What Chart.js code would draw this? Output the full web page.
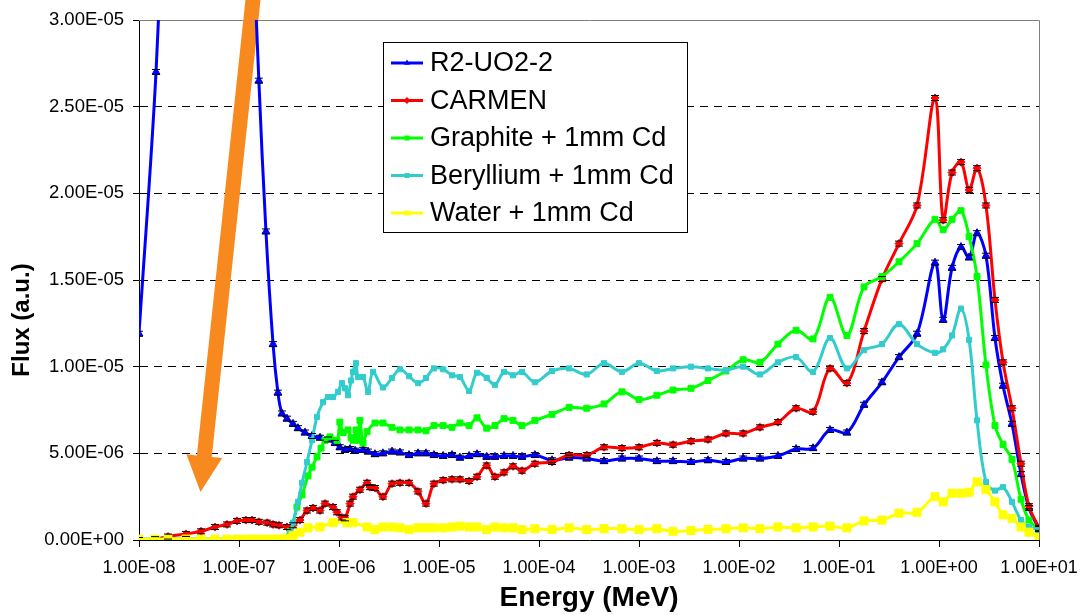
<!DOCTYPE html>
<html>
<head>
<meta charset="utf-8">
<script src="https://cdn.jsdelivr.net/npm/chart.js@4.4.0/dist/chart.umd.min.js"></script>
<style>
  html, body { margin: 0; padding: 0; background: #fff; }
  #wrap { width: 1081px; height: 615px; position: relative; }
</style>
</head>
<body>
<div id="wrap"><canvas id="flux-chart"></canvas></div>
<script>
// Neutron flux spectra. Flux values are in units of 1e-6 a.u.,
// energies in MeV. Above 3 eV all series share one energy grid.

const xTicks = [1e-8, 1e-7, 1e-6, 1e-5, 1e-4, 1e-3, 1e-2, 1e-1, 1e0, 1e1];
const xTickLabels = ['1.00E-08', '1.00E-07', '1.00E-06', '1.00E-05', '1.00E-04',
    '1.00E-03', '1.00E-02', '1.00E-01', '1.00E+00', '1.00E+01'];
const yTicks = [0, 5, 10, 15, 20, 25, 30];
const yTickLabels = ['0.00E+00', '5.00E-06', '1.00E-05', '1.50E-05', '2.00E-05', '2.50E-05', '3.00E-05'];

const seriesNames = ['R2-UO2-2', 'CARMEN', 'Graphite + 1mm Cd', 'Beryllium + 1mm Cd', 'Water + 1mm Cd'];

const energyGrid = [
    3.39e-6, 4.07e-6, 5.01e-6, 6.17e-6, 7.41e-6, 8.9e-6, 1.10e-5, 1.35e-5, 1.62e-5,
    2.0e-5, 2.4e-5, 3.0e-5, 3.63e-5, 4.47e-5, 5.5e-5, 6.76e-5, 9.1e-5,
    1.35e-4, 2.0e-4, 3.0e-4, 4.47e-4, 6.76e-4, 1.0e-3, 1.51e-3, 2.19e-3, 3.31e-3,
    4.9e-3, 7.41e-3, 1.1e-2, 1.62e-2, 2.45e-2, 3.72e-2, 5.5e-2, 8.13e-2, 0.12,
    0.178, 0.269, 0.398, 0.603, 0.912, 1.10, 1.35, 1.66, 2.0, 2.4, 2.95, 3.63,
    4.37, 5.37, 6.61, 7.94, 10
];

// R2-UO2-2
const r2LowEnergy = [1.0e-8, 1.48e-8, 2.2e-8, 3.5e-8, 6e-8, 9e-8, 1.15e-7, 1.35e-7, 1.58e-7,
    1.86e-7, 2.19e-7, 2.45e-7, 2.69e-7, 3.02e-7, 3.47e-7, 3.89e-7, 4.57e-7, 5.37e-7,
    6.46e-7, 7.76e-7, 9.12e-7, 1.02e-6, 1.15e-6, 1.29e-6, 1.45e-6, 1.74e-6, 1.95e-6,
    2.29e-6, 2.75e-6];
const r2LowFlux = [11.9, 27.0, 50, 80, 90, 75, 55, 37, 26.5,
    17.8, 11.3, 8.5, 7.3, 7.0, 6.7, 6.45, 6.2, 6.0,
    5.9, 5.8, 5.6, 5.35, 5.2, 5.25, 5.15, 5.2, 5.1,
    4.95, 5.0];
const r2Flux = [5.1, 5.05, 4.9, 5.0, 5.0, 4.9, 4.85, 4.9, 4.75, 4.85, 4.95, 4.8, 4.8, 4.85, 4.85, 4.8, 4.9,
    4.6, 4.75, 4.7, 4.55, 4.7, 4.7, 4.55, 4.55, 4.5, 4.6, 4.5, 4.7, 4.7, 4.85, 5.25, 5.3,
    6.35, 6.2, 7.8, 9.1, 10.55, 11.9, 16.0, 12.7, 15.7, 16.9, 16.3, 17.7, 16.4, 11.65,
    8.9, 6.7, 3.8, 1.85, 0.63];

// CARMEN
const carmenLowEnergy = [1.0e-8, 1.45e-8, 1.95e-8, 2.95e-8, 4.17e-8, 5.75e-8, 7.59e-8, 9.55e-8,
    1.17e-7, 1.35e-7, 1.58e-7, 1.91e-7, 2.19e-7, 2.51e-7, 3.02e-7, 3.47e-7, 4.07e-7,
    4.79e-7, 5.5e-7, 6.46e-7, 7.24e-7, 8.71e-7, 9.55e-7, 1.07e-6, 1.15e-6, 1.29e-6,
    1.38e-6, 1.62e-6, 1.91e-6, 2.04e-6, 2.29e-6, 2.75e-6];
const carmenLowFlux = [0.0, 0.05, 0.2, 0.35, 0.5, 0.75, 0.9, 1.1,
    1.15, 1.15, 1.05, 1.0, 0.9, 0.85, 0.75, 0.85, 1.15,
    1.7, 1.85, 1.7, 2.1, 1.9, 1.6, 1.3, 1.25, 2.1,
    2.5, 2.9, 3.3, 3.05, 3.0, 2.5];
const carmenFlux = [3.25, 3.3, 3.3, 2.8, 2.1, 3.25, 3.45, 3.5, 3.5, 3.4, 3.65, 4.3, 3.65, 3.9, 4.25, 4.0, 4.4,
    4.5, 4.9, 4.9, 5.35, 5.3, 5.35, 5.6, 5.5, 5.7, 5.8, 6.15, 6.15, 6.5, 6.8, 7.6, 7.4,
    9.9, 9.05, 12.05, 15.05, 17.1, 19.3, 25.5, 18.45, 21.2, 21.8, 20.2, 21.45, 19.3, 13.85,
    10.25, 7.6, 4.4, 1.95, 0.7];

// Graphite + 1mm Cd
const graphiteLowEnergy = [1.0e-8, 3.0e-8, 1.0e-7, 2.51e-7, 3.24e-7, 3.8e-7, 4.27e-7, 4.9e-7,
    5.37e-7, 6.03e-7, 6.61e-7, 7.24e-7, 8.13e-7, 9.55e-7, 1.02e-6, 1.10e-6, 1.23e-6,
    1.32e-6, 1.38e-6, 1.48e-6, 1.55e-6, 1.62e-6, 1.74e-6, 1.91e-6, 2.29e-6, 2.75e-6];
const graphiteLowFlux = [0.05, 0.05, 0.05, 0.05, 0.5, 1.9, 2.6, 3.7,
    4.2, 4.8, 5.3, 5.75, 5.95, 5.75, 6.8, 6.2, 6.35,
    5.9, 5.75, 6.35, 5.75, 6.9, 5.6, 6.25, 6.75, 6.75];
const graphiteFlux = [6.5, 6.35, 6.35, 6.35, 6.3, 6.6, 6.6, 6.5, 6.75, 6.6, 7.05, 6.45, 6.6, 7.0, 6.9, 6.6, 6.9,
    7.25, 7.65, 7.6, 7.85, 8.55, 8.1, 8.35, 8.65, 8.75, 9.2, 9.75, 10.4, 10.25, 11.3, 12.1, 11.6,
    14.0, 11.8, 14.6, 15.2, 16.05, 17.1, 18.5, 17.9, 18.5, 19.0, 17.5, 15.2, 10.1, 6.6,
    5.5, 4.65, 2.35, 1.15, 0.58];

// Beryllium + 1mm Cd
const berylliumLowEnergy = [1.0e-8, 3.0e-8, 1.0e-7, 2.51e-7, 3.24e-7, 3.47e-7, 3.89e-7, 4.27e-7,
    4.79e-7, 5.37e-7, 6.03e-7, 6.92e-7, 7.76e-7, 8.71e-7, 9.77e-7, 1.07e-6, 1.15e-6,
    1.23e-6, 1.32e-6, 1.38e-6, 1.48e-6, 1.55e-6, 1.74e-6, 1.95e-6, 2.19e-6, 2.75e-6];
const berylliumLowFlux = [0.05, 0.05, 0.05, 0.05, 0.4, 1.0, 2.2, 3.3,
    4.5, 5.75, 7.1, 7.95, 8.25, 8.25, 8.55, 9.05, 8.75,
    8.35, 9.2, 9.7, 10.2, 9.4, 9.4, 8.55, 9.7, 8.8];
const berylliumFlux = [9.35, 9.85, 9.45, 9.05, 9.35, 9.9, 9.85, 9.5, 9.4, 8.6, 9.65, 9.35, 8.95, 9.7, 9.5, 9.7, 9.1,
    9.75, 9.9, 9.55, 10.2, 9.7, 10.2, 9.75, 9.9, 10.0, 9.9, 9.8, 10.0, 9.55, 10.25, 10.55, 9.7,
    11.65, 9.9, 10.95, 11.3, 12.45, 11.3, 10.8, 11.0, 11.8, 13.35, 11.55, 6.9, 3.35, 2.85,
    3.05, 2.2, 1.15, 0.75, 0.6];

// Water + 1mm Cd
const waterLowEnergy = [1.0e-8, 1.45e-8, 1.95e-8, 2.95e-8, 4.17e-8, 5.75e-8, 7.59e-8, 9.55e-8,
    1.17e-7, 1.35e-7, 1.58e-7, 1.91e-7, 2.19e-7, 2.51e-7, 3.02e-7, 3.47e-7, 4.07e-7,
    4.9e-7, 6.46e-7, 8.71e-7, 1.2e-6, 1.38e-6, 1.91e-6, 2.29e-6, 2.75e-6];
const waterLowFlux = [0.05, 0.05, 0.05, 0.05, 0.05, 0.05, 0.05, 0.05,
    0.05, 0.05, 0.05, 0.05, 0.05, 0.05, 0.1, 0.25, 0.45,
    0.7, 0.75, 1.0, 1.0, 1.0, 0.75, 0.6, 0.75];
const waterFlux = [0.75, 0.7, 0.6, 0.7, 0.7, 0.7, 0.7, 0.75, 0.8, 0.75, 0.75, 0.6, 0.75, 0.7, 0.7, 0.6, 0.65,
    0.6, 0.7, 0.6, 0.65, 0.65, 0.6, 0.65, 0.5, 0.55, 0.6, 0.65, 0.7, 0.65, 0.75, 0.7, 0.75,
    0.8, 0.7, 1.1, 1.15, 1.55, 1.6, 2.5, 2.2, 2.7, 2.7, 2.75, 3.35, 2.9, 2.2,
    1.45, 1.25, 0.75, 0.45, 0.15];

// orange annotation arrow: tail and tip as [energy, flux]
const arrowTail = [1.43e-7, 32];
const arrowTip = [4.12e-8, 2.77];

const FONT = "'Liberation Sans', Arial, sans-serif";

function toPoints(lowE, lowF, flux) {
    return lowE.map((e, i) => ({ x: e, y: lowF[i] }))
        .concat(energyGrid.map((e, i) => ({ x: e, y: flux[i] })));
}

function makeDataset(idx, lowE, lowF, flux, color, style, radius, errorBars) {
    return {
        label: seriesNames[idx],
        data: toPoints(lowE, lowF, flux),
        borderColor: color,
        backgroundColor: color,
        pointBackgroundColor: color,
        pointBorderColor: color,
        pointBorderWidth: 1,
        pointStyle: style,
        pointRadius: radius,
        borderWidth: 3,
        tension: 0.35,
        order: 4 - idx,
        errorBars: errorBars,
    };
}

const datasets = [
    makeDataset(0, r2LowEnergy, r2LowFlux, r2Flux, '#0000FF', 'triangle', 4.5, true),
    makeDataset(1, carmenLowEnergy, carmenLowFlux, carmenFlux, '#FF0000', 'rectRot', 4, true),
    makeDataset(2, graphiteLowEnergy, graphiteLowFlux, graphiteFlux, '#00FF00', 'rect', 4.2, false),
    makeDataset(3, berylliumLowEnergy, berylliumLowFlux, berylliumFlux, '#33CCCC', 'rect', 3.6, false),
    makeDataset(4, waterLowEnergy, waterLowFlux, waterFlux, '#FFFF00', 'rect', 5.7, false),
];

function drawMarker(ctx, style, r, x, y) {
    ctx.beginPath();
    if (style === 'triangle') {
        ctx.moveTo(x, y - r);
        ctx.lineTo(x + r * 0.866, y + r * 0.5);
        ctx.lineTo(x - r * 0.866, y + r * 0.5);
    } else if (style === 'rectRot') {
        ctx.moveTo(x, y - r); ctx.lineTo(x + r, y); ctx.lineTo(x, y + r); ctx.lineTo(x - r, y);
    } else {
        const s = r * Math.SQRT1_2;
        ctx.rect(x - s, y - s, 2 * s, 2 * s);
    }
    ctx.closePath();
    ctx.fill();
}

const overlayPlugin = {
    id: 'overlay',
    beforeDatasetsDraw(chart) {
        const { ctx, chartArea: a, scales: { x, y } } = chart;
        ctx.save();
        // gray frame on the top and right of the plot
        ctx.strokeStyle = '#808080';
        ctx.lineWidth = 1;
        ctx.beginPath();
        ctx.moveTo(a.left, a.top + 0.5);
        ctx.lineTo(a.right + 0.5, a.top + 0.5);
        ctx.lineTo(a.right + 0.5, a.bottom);
        ctx.stroke();

        // orange arrow
        const tx = x.getPixelForValue(arrowTail[0]), ty = y.getPixelForValue(arrowTail[1]);
        const hx = x.getPixelForValue(arrowTip[0]), hy = y.getPixelForValue(arrowTip[1]);
        const len = Math.hypot(hx - tx, hy - ty);
        const ux = (hx - tx) / len, uy = (hy - ty) / len;
        const nx = -uy, ny = ux;
        const headLen = 36, headHalf = 18, shaftHalf = 7.5;
        const bx = hx - ux * headLen, by = hy - uy * headLen;
        ctx.fillStyle = '#F7891F';
        ctx.beginPath();
        ctx.moveTo(tx + nx * shaftHalf, ty + ny * shaftHalf);
        ctx.lineTo(bx + nx * shaftHalf, by + ny * shaftHalf);
        ctx.lineTo(bx + nx * headHalf, by + ny * headHalf);
        ctx.lineTo(hx, hy);
        ctx.lineTo(bx - nx * headHalf, by - ny * headHalf);
        ctx.lineTo(bx - nx * shaftHalf, by - ny * shaftHalf);
        ctx.lineTo(tx - nx * shaftHalf, ty - ny * shaftHalf);
        ctx.closePath();
        ctx.fill();
        ctx.restore();
    },
    afterDatasetsDraw(chart) {
        const { ctx, chartArea: a } = chart;
        ctx.save();

        // small error-bar caps on the measured series
        ctx.beginPath();
        ctx.rect(a.left, a.top, a.right - a.left, a.bottom - a.top);
        ctx.clip();
        ctx.strokeStyle = '#000';
        ctx.lineWidth = 1;
        chart.data.datasets.forEach((ds, i) => {
            if (!ds.errorBars) return;
            chart.getDatasetMeta(i).data.forEach(pt => {
                ctx.beginPath();
                ctx.moveTo(pt.x - 4, pt.y - 2.5); ctx.lineTo(pt.x + 4, pt.y - 2.5);
                ctx.moveTo(pt.x - 4, pt.y + 2.5); ctx.lineTo(pt.x + 4, pt.y + 2.5);
                ctx.stroke();
            });
        });
        ctx.restore();

        // legend box inside the plot
        ctx.save();
        const lx = 383, ly = 42, lw = 304, lh = 190, rowH = 37.5;
        ctx.fillStyle = '#fff';
        ctx.fillRect(lx, ly, lw, lh);
        ctx.strokeStyle = '#000';
        ctx.lineWidth = 1;
        ctx.strokeRect(lx + 0.5, ly + 0.5, lw, lh);
        ctx.font = '27px ' + FONT;
        ctx.textBaseline = 'middle';
        ctx.textAlign = 'left';
        chart.data.datasets.forEach((ds, i) => {
            const cy = ly + 21 + i * rowH;
            ctx.strokeStyle = ds.borderColor;
            ctx.lineWidth = 3;
            ctx.beginPath();
            ctx.moveTo(lx + 8, cy);
            ctx.lineTo(lx + 40, cy);
            ctx.stroke();
            ctx.fillStyle = ds.borderColor;
            drawMarker(ctx, ds.pointStyle, Math.min(ds.pointRadius, 3.5), lx + 24, cy);
            ctx.fillStyle = '#000';
            ctx.fillText(ds.label, lx + 47, cy + 1);
        });

        // y axis title
        ctx.translate(22, 320);
        ctx.rotate(-Math.PI / 2);
        ctx.font = 'bold 24px ' + FONT;
        ctx.textAlign = 'center';
        ctx.fillStyle = '#000';
        ctx.fillText('Flux (a.u.)', 0, 0);
        ctx.restore();
    }
};

Chart.defaults.font.family = FONT;
Chart.defaults.color = '#000';

new Chart(document.getElementById('flux-chart'), {
    type: 'line',
    data: { datasets: datasets },
    plugins: [overlayPlugin],
    options: {
        responsive: true,
        maintainAspectRatio: false,
        animation: false,
        devicePixelRatio: 1,
        layout: { padding: { top: 20, right: 42, bottom: 0, left: 0 } },
        elements: { line: { capBezierPoints: false } },
        plugins: { legend: { display: false }, tooltip: { enabled: false } },
        scales: {
            x: {
                type: 'logarithmic',
                min: 1e-8,
                max: 10,
                afterBuildTicks(scale) { scale.ticks = xTicks.map(v => ({ value: v })); },
                afterFit(scale) {
                    scale.height = 75;
                    scale.paddingLeft = 0;
                    scale.paddingRight = 0;
                },
                ticks: {
                    autoSkip: false,
                    maxRotation: 0,
                    padding: 10,
                    font: { size: 18 },
                    callback: v => xTickLabels[xTicks.indexOf(v)],
                },
                grid: { drawOnChartArea: false, tickLength: 7, tickColor: '#000' },
                border: { color: '#000', width: 1 },
                title: {
                    display: true,
                    text: 'Energy (MeV)',
                    font: { size: 28, weight: 'bold' },
                    padding: { top: 0, bottom: 0 },
                },
            },
            y: {
                type: 'linear',
                min: 0,
                max: 30,
                afterBuildTicks(scale) { scale.ticks = yTicks.map(v => ({ value: v })); },
                afterFit(scale) {
                    scale.width = 139;
                    scale.paddingTop = 0;
                    scale.paddingBottom = 0;
                },
                ticks: {
                    padding: 9,
                    font: { size: 18.5 },
                    callback: v => yTickLabels[yTicks.indexOf(v)],
                },
                grid: {
                    color: c => (c.tick && (c.tick.value === 0 || c.tick.value === 30)) ? 'rgba(0,0,0,0)' : '#000',
                    tickLength: 6,
                    tickColor: '#000',
                },
                border: { color: '#000', width: 1, dash: [8, 6] },
            },
        },
    },
});
</script>
</body>
</html>
